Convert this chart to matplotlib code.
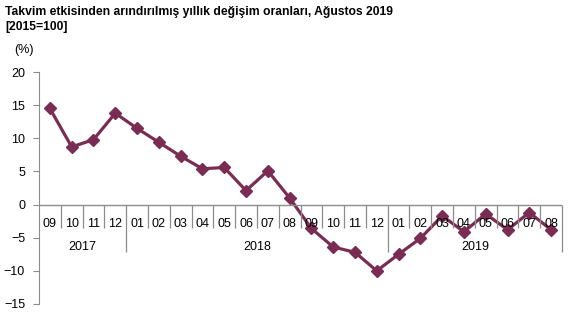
import matplotlib.pyplot as plt
import numpy as np

plt.rcParams['font.family'] = ['Liberation Sans', 'DejaVu Sans']

# Aylık değişim oranları (%), Eylül 2017 - Ağustos 2019
months = ['09', '10', '11', '12',
          '01', '02', '03', '04', '05', '06', '07', '08', '09', '10', '11', '12',
          '01', '02', '03', '04', '05', '06', '07', '08']
years = ['2017', '2018', '2019']
year_counts = [4, 12, 8]
values = [14.5, 8.7, 9.8, 13.8,
          11.5, 9.4, 7.3, 5.4, 5.6, 2.1, 5.1, 1.0, -3.6, -6.4, -7.2, -10.0,
          -7.5, -5.1, -1.7, -4.1, -1.4, -3.8, -1.2, -3.8]

line_color = '#7a2c52'
axis_color = '#8c8c8c'

fig = plt.figure(figsize=(5.77, 3.29), dpi=100)
ax = fig.add_axes([0.0676, 0.076, 0.9064, 0.705])

x = np.arange(len(values)) + 0.5
ax.plot(x, values, color=line_color, linewidth=2.3, marker='D', markersize=6,
        markerfacecolor=line_color, markeredgecolor=line_color)

ax.set_xlim(0, len(values))
ax.set_ylim(-15, 20)
ax.set_yticks(range(-15, 25, 5))
ax.tick_params(axis='y', direction='out', length=4, color=axis_color,
               labelsize=9, pad=6)
ax.set_xticks([])

for side in ['top', 'right', 'bottom']:
    ax.spines[side].set_visible(False)
ax.spines['left'].set_color(axis_color)

# kategori ekseni: sıfır çizgisi ve ay/yıl ayraçları
ax.axhline(0, color=axis_color, linewidth=1)
for i, m in enumerate(months):
    ax.text(i + 0.5, -2.9, m, ha='center', va='center', fontsize=9)

bounds = np.cumsum([0] + year_counts)
for k in range(1, len(values) + 1):
    bottom = -7.2 if k in bounds else -3.6
    ax.vlines(k, bottom, 0, color=axis_color, linewidth=0.9, clip_on=False)

for yr, b0, b1 in zip(years, bounds[:-1], bounds[1:]):
    ax.text((b0 + b1) / 2, -6.4, yr, ha='center', va='center', fontsize=9)

fig.text(0.009, 0.965, 'Takvim etkisinden arındırılmış yıllık değişim oranları, Ağustos 2019',
         fontsize=8.7, fontweight='bold', ha='left', va='center')
fig.text(0.009, 0.918, '[2015=100]', fontsize=8.7, fontweight='bold', ha='left', va='center')
fig.text(0.024, 0.848, '(%)', fontsize=9, ha='left', va='center')

fig.savefig('out.png', dpi=100)
